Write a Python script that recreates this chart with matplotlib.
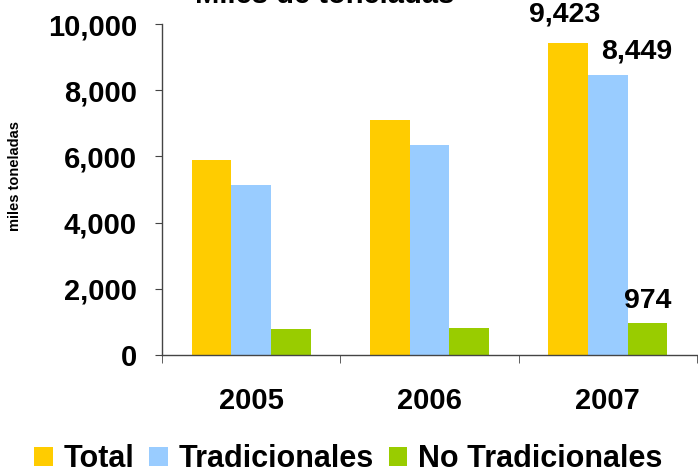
import matplotlib
matplotlib.use("Agg")
import matplotlib.pyplot as plt
import numpy as np

plt.rcParams['font.family'] = ['Liberation Sans', 'DejaVu Sans']
plt.rcParams['font.weight'] = 'bold'

# Data
years = ["2005", "2006", "2007"]
series = ["Total", "Tradicionales", "No Tradicionales"]
total = [5890, 7100, 9423]
tradicionales = [5135, 6345, 8449]
no_tradicionales = [776, 816, 974]
values = [total, tradicionales, no_tradicionales]
colors = ["#FFCC00", "#99CCFF", "#99CC00"]

fig = plt.figure(figsize=(6.98, 4.7), dpi=100)
ax = fig.add_axes([162 / 698, 1 - 355 / 470, 535 / 698, 331 / 470])

x = np.arange(len(years))
width = 0.222
bars = []
for i, (name, vals) in enumerate(zip(series, values)):
    b = ax.bar(x + (i - 1) * width, vals, width, color=colors[i], label=name)
    bars.append(b)

# value labels only on 2007 (offsets in points)
label_offsets = [(-2.5, 11), (21, 8), (0, 6.5)]
for b, (dx, dy) in zip(bars, label_offsets):
    r = b[2]
    ax.annotate(f"{r.get_height():,}", (r.get_x() + r.get_width() / 2, r.get_height()),
                xytext=(dx, dy), textcoords="offset points", ha="center", va="bottom",
                fontsize=20.5, fontweight="bold", annotation_clip=False)

ax.set_xlim(-0.5, 2.5)
ax.set_ylim(0, 10000)
ax.set_yticks(np.arange(0, 10001, 2000))
ax.set_yticklabels([f"{v:,}" for v in range(0, 10001, 2000)], fontsize=21, fontweight="bold")
ax.set_xticks(x)
ax.set_xticklabels(years, fontsize=21, fontweight="bold")
ax.set_xticks([-0.5, 0.5, 1.5, 2.5], minor=True)
ax.tick_params(axis="x", which="major", length=0, pad=23)
ax.tick_params(axis="x", which="minor", length=6, direction="out", color="#444444")
ax.tick_params(axis="y", length=5, direction="out", pad=13, color="#444444")

for s in ["top", "right"]:
    ax.spines[s].set_visible(False)
for s in ["left", "bottom"]:
    ax.spines[s].set_color("#444444")
    ax.spines[s].set_linewidth(1)

fig.text(15 / 698, 1 - 176 / 470, "miles toneladas", rotation=90, ha="center", va="center",
         fontsize=10.5, fontweight="bold")
fig.text(195 / 698, 1 - 3 / 470, "Miles de toneladas", ha="left", va="baseline",
         fontsize=21, fontweight="bold")

fig.legend(loc="lower center", bbox_to_anchor=(0.499, -0.035), ncol=3, frameon=False,
           fontsize=22, handlelength=0.6, handleheight=0.6, handletextpad=0.35,
           columnspacing=0.5, borderaxespad=0)

fig.savefig("out.png", dpi=100)
